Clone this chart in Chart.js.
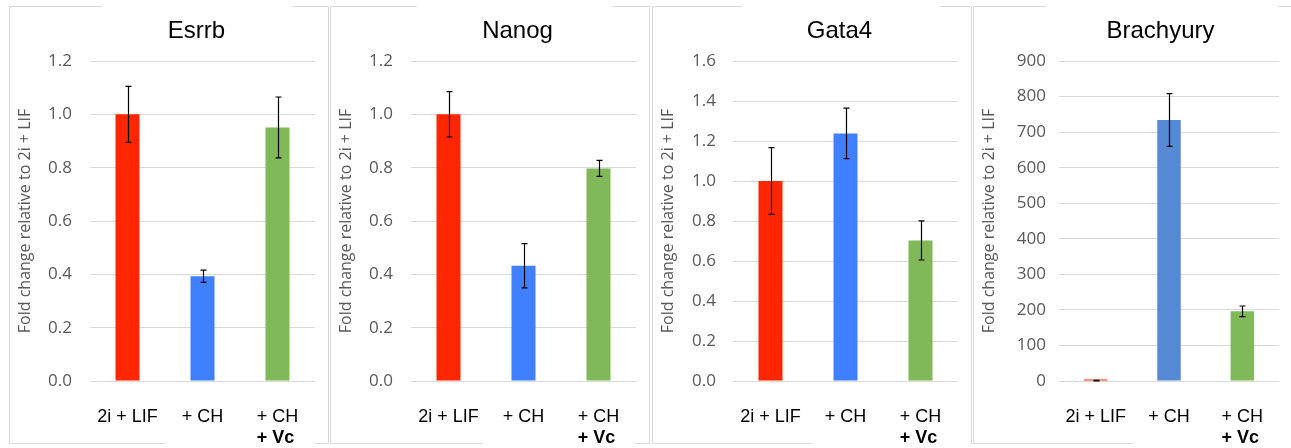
<!DOCTYPE html>
<html>
<head>
<meta charset="utf-8">
<script src="https://cdn.jsdelivr.net/npm/chart.js@4.4.1/dist/chart.umd.min.js"></script>
<style>
  body { margin: 0; background: #fff; width: 1291px; height: 448px; overflow: hidden; position: relative; }
  canvas { position: absolute; top: 6px; }
</style>
</head>
<body>
<canvas id="esrrb" width="321" height="442" style="left:9px"></canvas>
<canvas id="nanog" width="321" height="442" style="left:330px"></canvas>
<canvas id="gata4" width="321" height="442" style="left:652px"></canvas>
<canvas id="brachyury" width="321" height="442" style="left:973px"></canvas>
<script>
// conditions on the x axis; the third one has a bold second line
const categories = ['2i + LIF', '+ CH', '+ CH'];
const categorySub = ['', '', '+ Vc'];

// fold change relative to 2i + LIF, with error bar half-lengths
const esrrbValues = [1.0, 0.393, 0.951];
const esrrbErrors = [0.105, 0.023, 0.114];
const nanogValues = [1.0, 0.432, 0.797];
const nanogErrors = [0.085, 0.083, 0.03];
const gata4Values = [1.0, 1.238, 0.703];
const gata4Errors = [0.167, 0.126, 0.098];
const brachyuryValues = [1, 734, 196];
const brachyuryErrors = [0.5, 74, 15];

const yTitle = 'Fold change relative to 2i + LIF';

// draws the light grey panel frame (with the gaps left by the text boxes)
const panelFrame = {
  id: 'panelFrame',
  beforeDraw(chart, args, opts) {
    const ctx = chart.ctx;
    const t = 0.5, b = 437.5, l = 0.5, r = 319.5;
    ctx.save();
    ctx.strokeStyle = '#d9d9d9';
    ctx.lineWidth = 1;
    ctx.beginPath();
    ctx.moveTo(l, t); ctx.lineTo(opts.topGap[0], t);
    ctx.moveTo(opts.topGap[1], t); ctx.lineTo(r, t);
    ctx.lineTo(r, b);
    ctx.moveTo(opts.bottomGap[1], b); ctx.lineTo(r, b);
    ctx.moveTo(opts.bottomGap[0], b); ctx.lineTo(l, b);
    ctx.lineTo(l, t);
    ctx.stroke();
    ctx.restore();
  }
};

const errorBars = {
  id: 'errorBars',
  afterDatasetsDraw(chart) {
    const ctx = chart.ctx;
    const y = chart.scales.y;
    const ds = chart.data.datasets[0];
    const meta = chart.getDatasetMeta(0);
    ctx.save();
    ctx.strokeStyle = '#000';
    ctx.lineWidth = 1.2;
    meta.data.forEach((bar, i) => {
      const v = ds.data[i], e = ds.errors[i];
      const x = Math.round(bar.x) + 0.5;
      const yt = y.getPixelForValue(v + e);
      const yb = y.getPixelForValue(v - e);
      ctx.beginPath();
      ctx.moveTo(x, yt); ctx.lineTo(x, yb);
      ctx.moveTo(x - 3, yt); ctx.lineTo(x + 3, yt);
      ctx.moveTo(x - 3, yb); ctx.lineTo(x + 3, yb);
      ctx.stroke();
    });
    ctx.restore();
  }
};

// chart title and the bold second line of the last category
const extraText = {
  id: 'extraText',
  afterDraw(chart, args, opts) {
    const ctx = chart.ctx;
    const x = chart.scales.x;
    ctx.save();
    ctx.fillStyle = '#000';
    ctx.textAlign = 'center';
    ctx.textBaseline = 'middle';
    ctx.font = '24px "Liberation Sans", Arial, sans-serif';
    ctx.fillText(opts.title, 187.5, 25);
    categorySub.forEach((sub, i) => {
      if (!sub) return;
      ctx.font = '18px "Liberation Sans", Arial, sans-serif';
      const w = ctx.measureText(categories[i]).width;
      const left = x.getPixelForTick(i) - w / 2;
      ctx.font = 'bold 18px "Liberation Sans", Arial, sans-serif';
      ctx.textAlign = 'left';
      ctx.fillText(sub, left, 432);
    });
    ctx.restore();
  }
};

function makeChart(id, gene, values, errors, colors, yMax, yStep, yWidth, tickPad, decimals, frame) {
  new Chart(document.getElementById(id), {
    type: 'bar',
    data: {
      labels: categories,
      datasets: [{
        data: values,
        errors: errors,
        backgroundColor: colors,
        barPercentage: 0.32,
        categoryPercentage: 1,
        minBarLength: 1.5
      }]
    },
    options: {
      responsive: false,
      animation: false,
      layout: { padding: { top: 55, right: 15, left: 0, bottom: 0 } },
      plugins: {
        legend: { display: false },
        tooltip: { enabled: false },
        title: { display: false },
        panelFrame: frame,
        extraText: { title: gene }
      },
      scales: {
        x: {
          grid: { display: false },
          border: { display: false },
          ticks: {
            color: '#000',
            font: { family: '"Liberation Sans", Arial, sans-serif', size: 18 },
            padding: 17,
            maxRotation: 0,
            autoSkip: false
          },
          afterFit(s) { s.height = 67; }
        },
        y: {
          min: 0,
          max: yMax,
          grid: { color: '#d9d9d9', drawTicks: false },
          border: { display: false },
          ticks: {
            stepSize: yStep,
            color: '#595959',
            font: { family: '"Open Sans", sans-serif', size: 17 },
            padding: tickPad,
            callback: v => v.toFixed(decimals)
          },
          title: {
            display: true,
            text: yTitle,
            color: '#595959',
            font: { family: '"Open Sans", sans-serif', size: 16 },
            padding: { top: 7, bottom: 0 }
          },
          afterFit(s) { s.width = yWidth; }
        }
      }
    },
    plugins: [panelFrame, errorBars, extraText]
  });
}

const red = '#ff2600', blue = '#4080ff', green = '#80b85a', slate = '#5589d3';

makeChart('esrrb', 'Esrrb', esrrbValues, esrrbErrors, [red, blue, green], 1.2, 0.2, 81, 18, 1,
  { topGap: [93, 284], bottomGap: [156, 306] });
makeChart('nanog', 'Nanog', nanogValues, nanogErrors, [red, blue, green], 1.2, 0.2, 81, 18, 1,
  { topGap: [87, 283], bottomGap: [153, 305] });
makeChart('gata4', 'Gata4', gata4Values, gata4Errors, [red, blue, green], 1.6, 0.2, 81, 17, 1,
  { topGap: [90, 288], bottomGap: [160, 321] });
makeChart('brachyury', 'Brachyury', brachyuryValues, brachyuryErrors, [red, slate, green], 900, 100, 86, 13, 0,
  { topGap: [73, 305], bottomGap: [160, 321] });
</script>
</body>
</html>
